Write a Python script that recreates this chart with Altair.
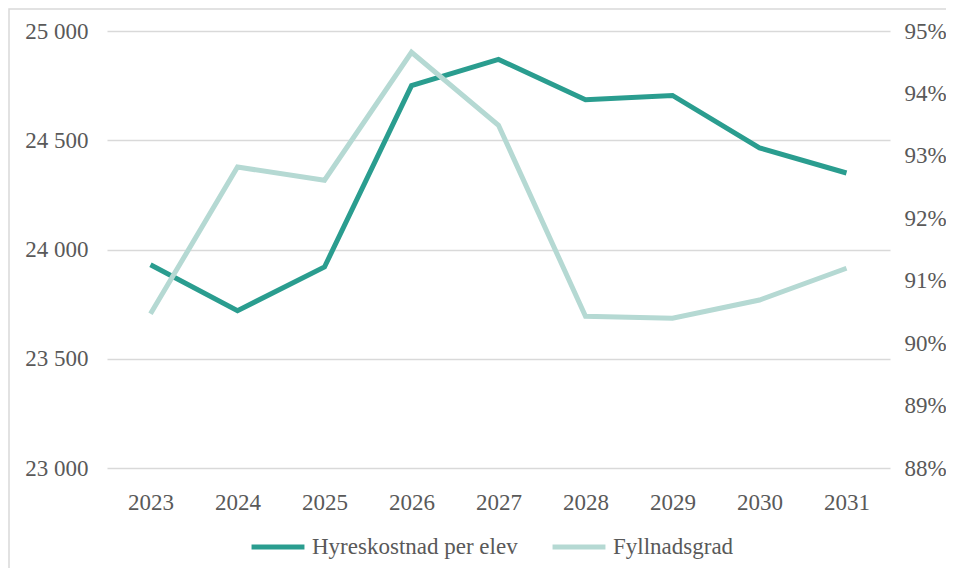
import altair as alt
import pandas as pd

years = ["2023", "2024", "2025", "2026", "2027", "2028", "2029", "2030", "2031"]
hyreskostnad = [23930, 23720, 23920, 24750, 24870, 24685, 24705, 24465, 24350]
fyllnadsgrad = [0.9047, 0.9282, 0.9261, 0.9466, 0.9349, 0.9043, 0.9040, 0.9069, 0.9120]
series_names = ["Hyreskostnad per elev", "Fyllnadsgrad"]
series_colors = ["#2a9d8f", "#b5d9d3"]
left_ticks = [23000, 23500, 24000, 24500, 25000]
right_ticks = [0.88, 0.89, 0.90, 0.91, 0.92, 0.93, 0.94, 0.95]

df1 = pd.DataFrame({"year": years, "value": hyreskostnad, "series": series_names[0]})
df2 = pd.DataFrame({"year": years, "value": fyllnadsgrad, "series": series_names[1]})

FONT = "Liberation Serif"
GRAY = "#595959"
FS = 23

color = alt.Color(
    "series:N",
    scale=alt.Scale(domain=series_names, range=series_colors),
    legend=alt.Legend(
        title=None,
        orient="none",
        legendX=142,
        legendY=487,
        direction="horizontal",
        symbolType="stroke",
        symbolStrokeWidth=5,
        symbolSize=2800,
        labelFont=FONT,
        labelFontSize=FS,
        labelColor=GRAY,
        labelOffset=5,
        labelLimit=400,
        columnPadding=24,
    ),
)

x = alt.X(
    "year:O",
    sort=years,
    axis=alt.Axis(
        title=None,
        labelAngle=0,
        domain=False,
        ticks=False,
        grid=False,
        labelFont=FONT,
        labelFontSize=FS,
        labelColor=GRAY,
        labelPadding=23,
    ),
)

left = alt.Chart(df1).mark_line(strokeWidth=5).encode(
    x=x,
    y=alt.Y(
        "value:Q",
        scale=alt.Scale(domain=[23000, 25000], nice=False, zero=False),
        axis=alt.Axis(
            title=None,
            orient="left",
            values=left_ticks,
            labelExpr="replace(format(datum.value, ','), ',', ' ')",
            grid=True,
            gridColor="#d9d9d9",
            gridWidth=1.5,
            domain=False,
            ticks=False,
            labelPadding=19,
            labelFont=FONT,
            labelFontSize=FS,
            labelColor=GRAY,
        ),
    ),
    color=color,
)

right = alt.Chart(df2).mark_line(strokeWidth=5).encode(
    x=x,
    y=alt.Y(
        "value:Q",
        scale=alt.Scale(domain=[0.88, 0.95], nice=False, zero=False),
        axis=alt.Axis(
            title=None,
            orient="right",
            values=right_ticks,
            format=".0%",
            grid=False,
            domain=False,
            ticks=False,
            labelPadding=14,
            labelFont=FONT,
            labelFontSize=FS,
            labelColor=GRAY,
        ),
    ),
    color=color,
)

frame_df = pd.DataFrame({"k": [0]})
frame = alt.Chart(frame_df).mark_rect(
    fillOpacity=0, stroke="#d9d9d9", strokeWidth=1.5
).encode(
    x=alt.value(-98),
    x2=alt.value(900),
    y=alt.value(-22),
    y2=alt.value(600),
)

chart = (
    alt.layer(frame, left, right)
    .resolve_scale(y="independent")
    .properties(
        width=783,
        height=437,
        autosize=alt.AutoSizeParams(type="none"),
        padding={"left": 99, "top": 23, "right": 56, "bottom": 100},
    )
    .configure_view(stroke=None)
)

chart.save("out.html", embed_options={"renderer": "svg", "actions": False})
